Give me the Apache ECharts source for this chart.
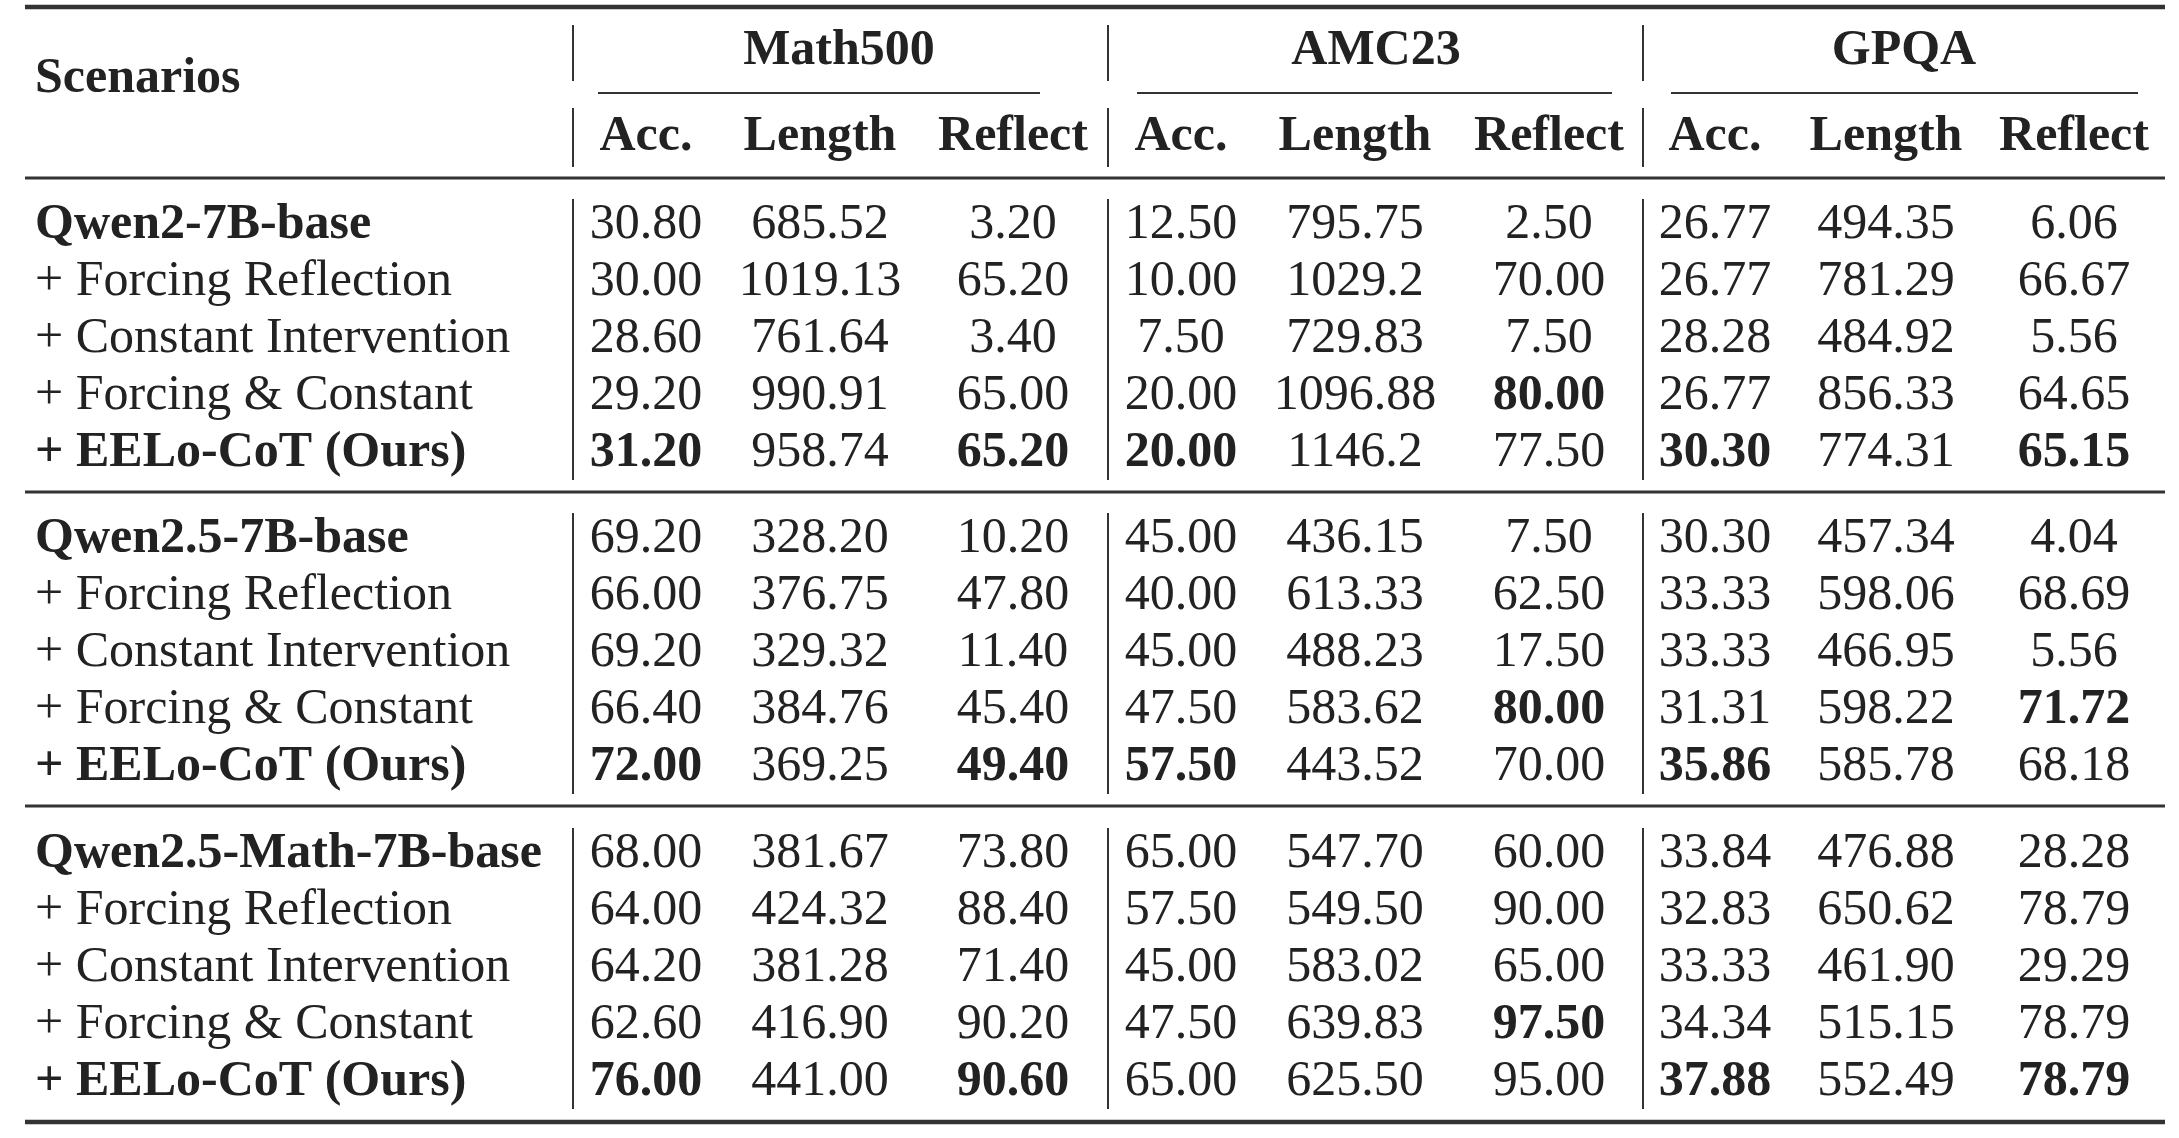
<!DOCTYPE html>
<html>
<head>
<meta charset="utf-8">
<script src="https://cdn.jsdelivr.net/npm/echarts@6/dist/echarts.min.js"></script>
<style>html,body{margin:0;background:#fff}#main{width:2179px;height:1138px}</style>
</head>
<body>
<div id="main"></div>
<script>
var groups = ['Math500', 'AMC23', 'GPQA'];
var metrics = ['Acc.', 'Length', 'Reflect'];
var scenarios = ['Qwen2-7B-base', 'Qwen2.5-7B-base', 'Qwen2.5-Math-7B-base'];
var variants = ['+ Forcing Reflection', '+ Constant Intervention', '+ Forcing & Constant', '+ EELo-CoT (Ours)'];

var qwen2 = [
    ['30.80','685.52','3.20','12.50','795.75','2.50','26.77','494.35','6.06'],
    ['30.00','1019.13','65.20','10.00','1029.2','70.00','26.77','781.29','66.67'],
    ['28.60','761.64','3.40','7.50','729.83','7.50','28.28','484.92','5.56'],
    ['29.20','990.91','65.00','20.00','1096.88','80.00','26.77','856.33','64.65'],
    ['31.20','958.74','65.20','20.00','1146.2','77.50','30.30','774.31','65.15']
];
var qwen25 = [
    ['69.20','328.20','10.20','45.00','436.15','7.50','30.30','457.34','4.04'],
    ['66.00','376.75','47.80','40.00','613.33','62.50','33.33','598.06','68.69'],
    ['69.20','329.32','11.40','45.00','488.23','17.50','33.33','466.95','5.56'],
    ['66.40','384.76','45.40','47.50','583.62','80.00','31.31','598.22','71.72'],
    ['72.00','369.25','49.40','57.50','443.52','70.00','35.86','585.78','68.18']
];
var qwen25math = [
    ['68.00','381.67','73.80','65.00','547.70','60.00','33.84','476.88','28.28'],
    ['64.00','424.32','88.40','57.50','549.50','90.00','32.83','650.62','78.79'],
    ['64.20','381.28','71.40','45.00','583.02','65.00','33.33','461.90','29.29'],
    ['62.60','416.90','90.20','47.50','639.83','97.50','34.34','515.15','78.79'],
    ['76.00','441.00','90.60','65.00','625.50','95.00','37.88','552.49','78.79']
];
var tables = [qwen2, qwen25, qwen25math];
// bold cells: [table, row, col]
var boldCells = [
    [0,3,5],[0,4,0],[0,4,2],[0,4,3],[0,4,6],[0,4,8],
    [1,3,5],[1,3,8],[1,4,0],[1,4,2],[1,4,3],[1,4,6],
    [2,3,5],[2,4,0],[2,4,2],[2,4,6],[2,4,8]
];

var colX = [646, 820, 1013, 1181, 1355, 1549, 1715, 1886, 2074];
var groupX = [839, 1376, 1904];
var groupLine = [[598, 1040], [1137, 1612], [1671, 2138]];
var vLineX = [573, 1108, 1643];
var groupTop = [225, 539, 854];
var rowStep = 57;
var font = '"Liberation Serif", "Times New Roman", serif';
var fs = 50;

function isBold(t, r, c) {
    return boldCells.some(function (b) { return b[0] === t && b[1] === r && b[2] === c; });
}
function txt(x, y, s, bold, align) {
    return { type: 'text', x: x, y: y, style: {
        text: s, fill: '#222', font: (bold ? 'bold ' : '') + fs + 'px ' + font,
        textAlign: align || 'center', textVerticalAlign: 'middle' } };
}
function hline(x1, x2, y, w) {
    return { type: 'line', shape: { x1: x1, y1: y, x2: x2, y2: y }, style: { stroke: '#333', lineWidth: w } };
}
function vline(x, y1, y2) {
    return { type: 'line', shape: { x1: x, y1: y1, x2: x, y2: y2 }, style: { stroke: '#333', lineWidth: 2 } };
}

var els = [];
els.push(hline(25, 2165, 7, 4.5));
els.push(hline(25, 2165, 178, 3));
els.push(hline(25, 2165, 492, 3));
els.push(hline(25, 2165, 806, 3));
els.push(hline(25, 2165, 1122, 4.5));
els.push(txt(35, 79, 'Scenarios', true, 'left'));
groups.forEach(function (g, i) {
    els.push(txt(groupX[i], 51, g, true));
    els.push(hline(groupLine[i][0], groupLine[i][1], 93, 2));
    metrics.forEach(function (m, j) { els.push(txt(colX[i * 3 + j], 137, m, true)); });
});
vLineX.forEach(function (x) {
    els.push(vline(x, 25, 81));
    els.push(vline(x, 108, 167));
    groupTop.forEach(function (y) { els.push(vline(x, y - 26, y + 4 * rowStep + 27)); });
});
tables.forEach(function (tab, t) {
    var labels = [scenarios[t]].concat(variants);
    tab.forEach(function (row, r) {
        var y = groupTop[t] + r * rowStep;
        els.push(txt(35, y, labels[r], r === 0 || r === 4, 'left'));
        row.forEach(function (v, c) { els.push(txt(colX[c], y, v, isBold(t, r, c))); });
    });
});

var chart = echarts.init(document.getElementById('main'));
chart.setOption({ animation: false, graphic: els });
</script>
</body>
</html>
